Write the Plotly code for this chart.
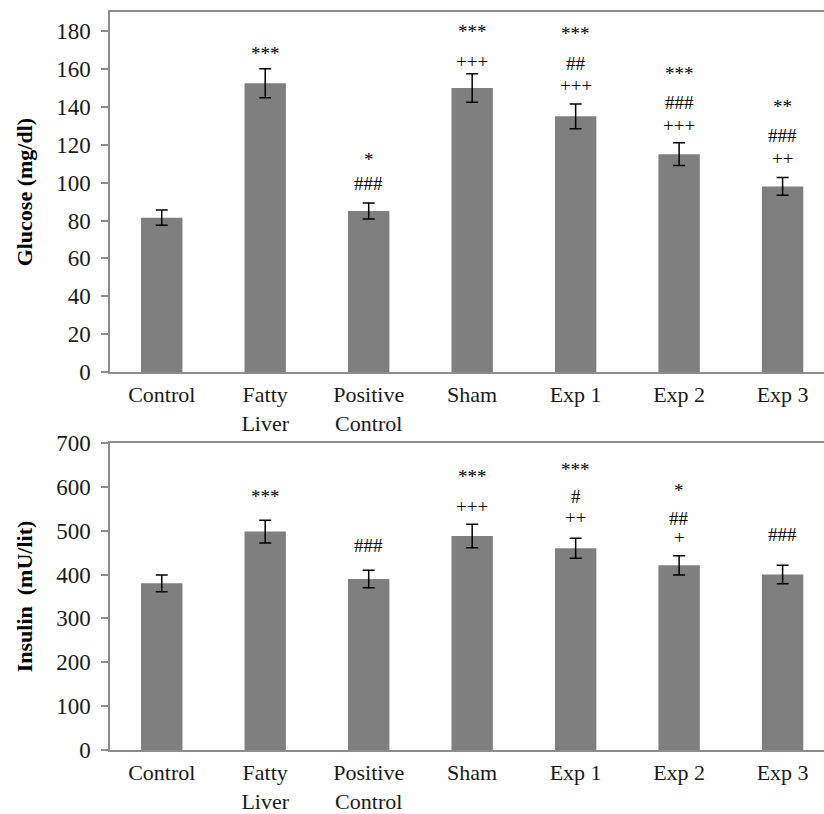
import plotly.graph_objects as go

# Groups shown on both panels
categories = ["Control", "Fatty<br>Liver", "Positive<br>Control", "Sham", "Exp 1", "Exp 2", "Exp 3"]

# Serum glucose (mg/dl): mean and error
glucose_mean = [81.5, 152.5, 85, 150, 135, 115, 98]
glucose_err = [4, 7.7, 4.2, 7.5, 6.5, 6, 4.7]

# Serum insulin (mU/lit): mean and error
insulin_mean = [380, 498, 390, 488, 460, 421, 400]
insulin_err = [19, 26, 20, 27, 23, 22, 21]

# Significance marks per group, listed top to bottom, with the level each is drawn at
glucose_marks = [
    [],
    [("***", 168)],
    [("*", 112), ("###", 99.5)],
    [("***", 180), ("+++", 164)],
    [("***", 178.5), ("##", 163), ("+++", 151.5)],
    [("***", 157.5), ("###", 142.5), ("+++", 130)],
    [("**", 140), ("###", 125), ("++", 113)],
]
insulin_marks = [
    [],
    [("***", 578)],
    [("###", 467)],
    [("***", 624), ("+++", 556)],
    [("***", 639), ("#", 579), ("++", 530)],
    [("*", 592), ("##", 528), ("+", 484)],
    [("###", 492)],
]

SERIF = "Liberation Serif"
BAR = "#7f7f7f"
AXIS = "#8c8c8c"

fig = go.Figure()

idx = list(range(len(categories)))

fig.add_trace(go.Bar(
    x=idx, y=glucose_mean, width=0.4, marker=dict(color=BAR, line=dict(width=0)),
    error_y=dict(type="data", array=glucose_err, color="black", thickness=1.5, width=6),
    xaxis="x", yaxis="y", showlegend=False,
))
fig.add_trace(go.Bar(
    x=idx, y=insulin_mean, width=0.4, marker=dict(color=BAR, line=dict(width=0)),
    error_y=dict(type="data", array=insulin_err, color="black", thickness=1.5, width=6),
    xaxis="x2", yaxis="y2", showlegend=False,
))

annotations = []
for marks, xr, yr in ((glucose_marks, "x", "y"), (insulin_marks, "x2", "y2")):
    for i, group in enumerate(marks):
        for text, level in group:
            annotations.append(dict(
                x=i, y=level, xref=xr, yref=yr, text=text, showarrow=False,
                font=dict(family=SERIF, size=19, color="black"),
                xanchor="center", yanchor="middle",
            ))

x_common = dict(
    tickmode="array", tickvals=idx, ticktext=categories,
    range=[-0.5, 6.4], showline=True, linecolor=AXIS, linewidth=1.5,
    mirror=True, ticks="", showgrid=False, zeroline=False, automargin=False,
    ticklabelstandoff=2,
    tickfont=dict(family=SERIF, size=22, color="#1a1a1a"),
)
y_common = dict(
    showline=True, linecolor=AXIS, linewidth=1.5, ticks="outside",
    ticklen=7, tickcolor=AXIS, tickwidth=1.5, showgrid=False, zeroline=False,
    ticklabelstandoff=6, automargin=False,
    tickfont=dict(family=SERIF, size=23, color="#1a1a1a"),
)

fig.update_layout(
    width=824, height=814,
    margin=dict(l=110, r=0, t=0, b=0),
    paper_bgcolor="white", plot_bgcolor="white",
    font=dict(family=SERIF),
    xaxis=dict(domain=[0, 1], anchor="y", **x_common),
    yaxis=dict(domain=[0.543, 0.985], anchor="x", range=[0, 190],
               tickvals=list(range(0, 181, 20)),
               title=dict(text="<b>Glucose (mg/dl)</b>", standoff=17,
                          font=dict(family=SERIF, size=22, color="black")),
               **y_common),
    xaxis2=dict(domain=[0, 1], anchor="y2", **x_common),
    yaxis2=dict(domain=[0.0786, 0.4558], anchor="x2", range=[0, 700],
                tickvals=list(range(0, 701, 100)),
                title=dict(text="<b>Insulin  (mU/lit)</b>", standoff=17,
                           font=dict(family=SERIF, size=22, color="black")),
                **y_common),
    annotations=annotations,
    bargap=0.6,
)

fig.write_html("out.html", post_script="document.body.style.margin='0';")
